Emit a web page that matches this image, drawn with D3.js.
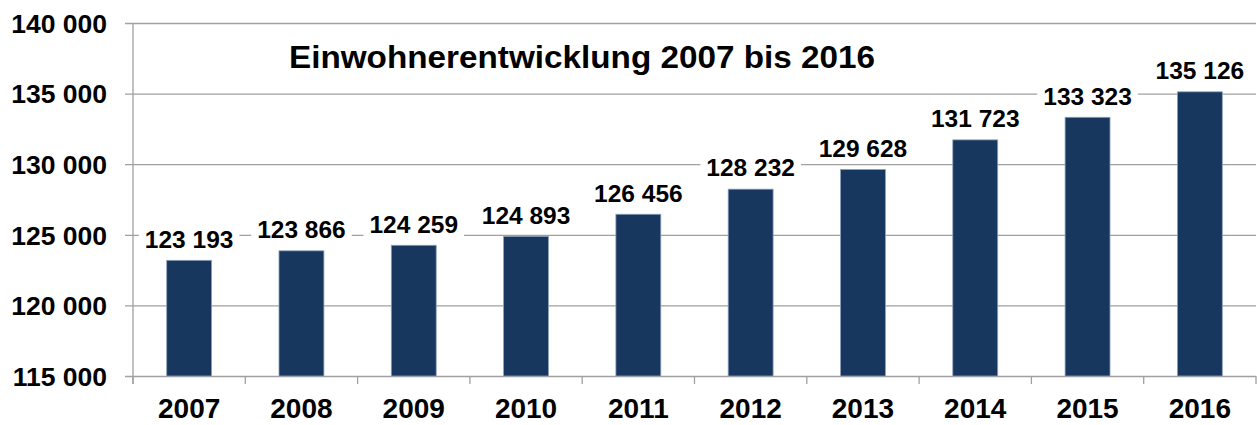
<html>
<meta charset="utf-8" />
<head>
<title>Einwohnerentwicklung 2007 bis 2016</title>
<script src="https://cdn.jsdelivr.net/npm/d3@7"></script>
<style>
	body { margin: 0; background: #fff; }
	text { font-family: "Liberation Sans", Arial, sans-serif; font-weight: bold; fill: #000; }
</style>
<script>
let years = ['2007','2008','2009','2010','2011','2012','2013','2014','2015','2016'];
let residents = [123193, 123866, 124259, 124893, 126456, 128232, 129628, 131723, 133323, 135126];
let yTicks = [115000, 120000, 125000, 130000, 135000, 140000];
let chartTitle = 'Einwohnerentwicklung 2007 bis 2016';

window.onload = function() {

	let width = 1258, height = 425;
	let margin = { top: 23, right: 2, bottom: 49, left: 133 };

	let de = d3.formatLocale({ decimal: ',', thousands: ' ', grouping: [3], currency: ['', ' €'] });
	let fmt = de.format(',d');

	let svg = d3.select('svg')
		.attr('width', width)
		.attr('height', height);

	let x = d3.scaleBand()
		.domain(years)
		.range([margin.left, width - margin.right]);

	let y = d3.scaleLinear()
		.domain([115000, 140000])
		.range([height - margin.bottom, margin.top]);

	// horizontal gridlines + y labels
	let yAxis = d3.axisLeft(y)
		.tickValues(yTicks)
		.tickSize(-(width - margin.right - margin.left) - 8)
		.tickFormat(fmt);

	let gy = svg.append('g')
		.attr('transform', 'translate(' + (margin.left - 8) + ',0)')
		.call(yAxis);
	gy.select('.domain').remove();
	gy.selectAll('.tick line')
		.attr('stroke', '#a0a0a0')
		.attr('stroke-width', 1.3)
		.attr('x1', 0);
	gy.selectAll('.tick text')
		.attr('x', -18)
		.attr('dy', '0.35em')
		.style('font-size', '26.5px');

	// x axis: band boundaries as ticks
	let bounds = years.map((d) => x(d)).concat([width - margin.right]);
	let gx = svg.append('g');
	gx.selectAll('line.xtick')
		.data(bounds)
		.enter()
		.append('line')
		.attr('class', 'xtick')
		.attr('x1', (d) => d)
		.attr('x2', (d) => d)
		.attr('y1', y(115000))
		.attr('y2', y(115000) + 8)
		.attr('stroke', '#a0a0a0')
		.attr('stroke-width', 1.3);

	// vertical axis line
	svg.append('line')
		.attr('x1', margin.left)
		.attr('x2', margin.left)
		.attr('y1', y(140000))
		.attr('y2', y(115000) + 8)
		.attr('stroke', '#a0a0a0')
		.attr('stroke-width', 1.3);

	gx.selectAll('text.year')
		.data(years)
		.enter()
		.append('text')
		.attr('class', 'year')
		.attr('x', (d) => x(d) + x.bandwidth() / 2)
		.attr('y', 418)
		.attr('text-anchor', 'middle')
		.style('font-size', '28px')
		.text((d) => d);

	// bars
	let barW = x.bandwidth() * 0.4;
	svg.selectAll('rect.bar')
		.data(residents)
		.enter()
		.append('rect')
		.attr('class', 'bar')
		.attr('x', (d, i) => x(years[i]) + x.bandwidth() / 2 - barW / 2)
		.attr('y', (d) => y(d))
		.attr('width', barW)
		.attr('height', (d) => y(115000) - y(d))
		.style('fill', '#17375e')
		.style('stroke', '#8fa2bb')
		.style('stroke-width', '0.8px');

	// value labels with white box
	let labels = svg.selectAll('g.lbl')
		.data(residents)
		.enter()
		.append('g')
		.attr('class', 'lbl')
		.attr('transform', (d, i) => 'translate(' + (x(years[i]) + x.bandwidth() / 2) + ',' + (y(d) - 12.7) + ')');

	labels.append('text')
		.attr('text-anchor', 'middle')
		.style('font-size', '24.5px')
		.text((d) => fmt(d));

	labels.each(function() {
		let g = d3.select(this);
		let bb = g.select('text').node().getBBox();
		g.insert('rect', 'text')
			.attr('x', bb.x - 6)
			.attr('y', bb.y - 2)
			.attr('width', bb.width + 12)
			.attr('height', bb.height + 4)
			.style('fill', '#fff');
	});

	// title
	svg.append('text')
		.attr('x', 289)
		.attr('y', 67.7)
		.attr('textLength', 586)
		.attr('lengthAdjust', 'spacingAndGlyphs')
		.style('font-size', '32px')
		.text(chartTitle);
}
</script>
</head>
<body>
<svg></svg>
</body>
</html>
